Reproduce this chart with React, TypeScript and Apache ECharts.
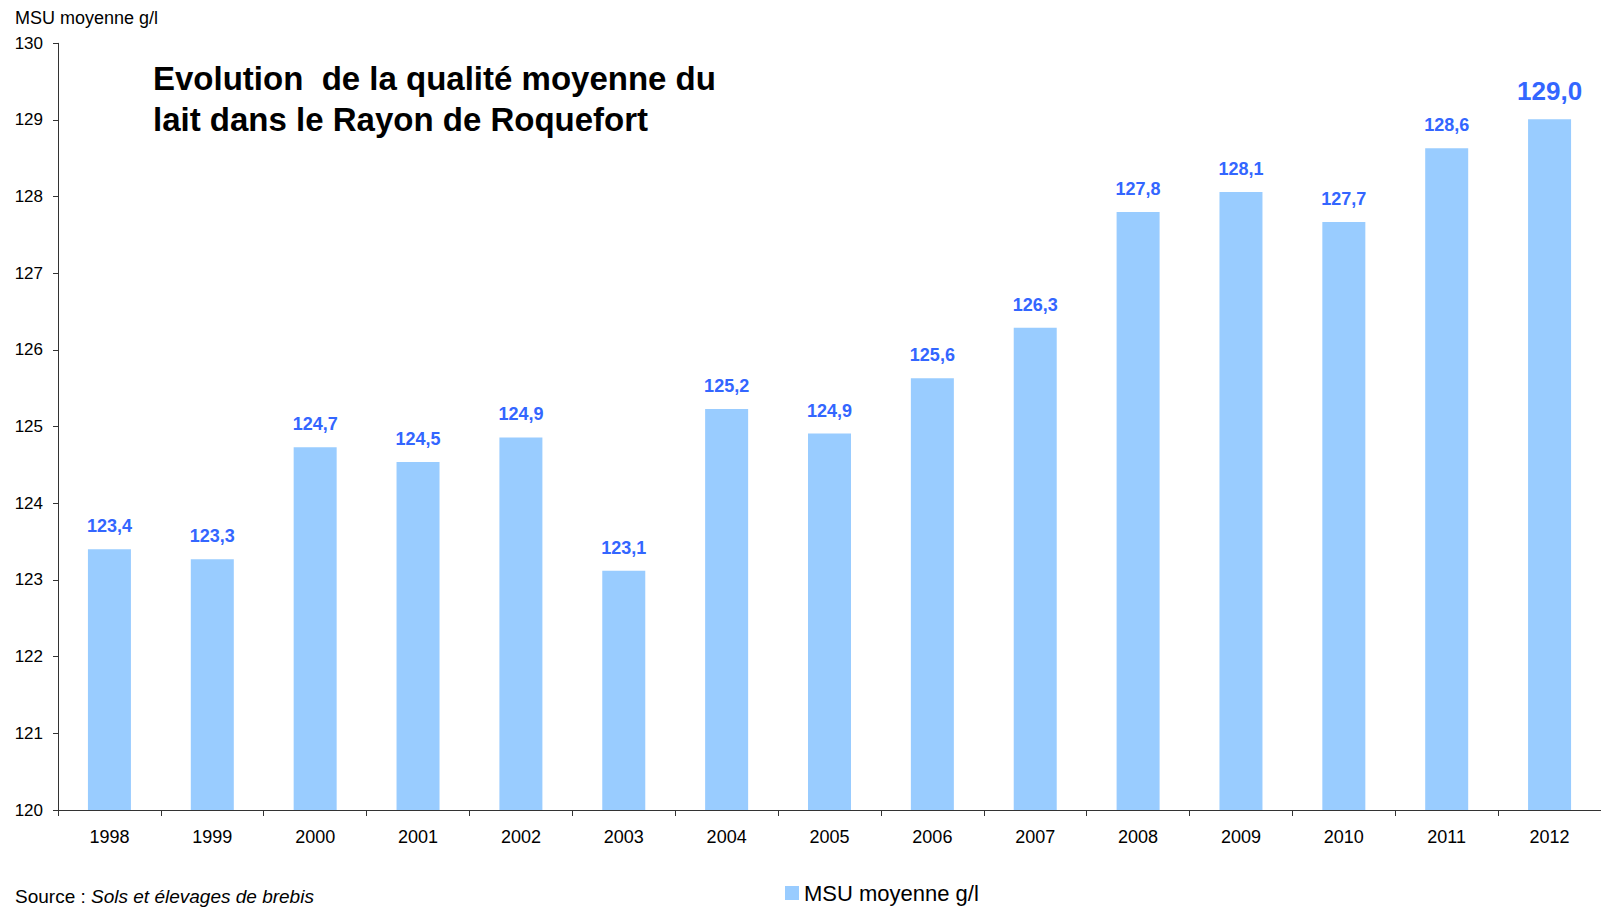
import React, { useEffect, useRef } from "react";
import * as echarts from "echarts";

const years = ["1998", "1999", "2000", "2001", "2002", "2003", "2004", "2005", "2006", "2007", "2008", "2009", "2010", "2011", "2012"];
const msuValues = [123.4, 123.27, 124.73, 124.54, 124.86, 123.12, 125.23, 124.91, 125.63, 126.29, 127.8, 128.06, 127.67, 128.63, 129.01];
const seriesName = "MSU moyenne g/l";
const yMin = 120;
const yMax = 130;
const yInterval = 1;

const FONT = "'Liberation Sans', Arial, sans-serif";
const BAR = "#99CCFF";
const LABEL = "#3366FF";

export default function App() {
  const ref = useRef<HTMLDivElement>(null);

  useEffect(() => {
    if (!ref.current) return;
    const chart = echarts.init(ref.current, null, { renderer: "svg" });
    const fmt = (v: number) => v.toFixed(1).replace(".", ",");
    const last = msuValues.length - 1;
    const data = msuValues.map((v, i) =>
      i === last
        ? { value: v, label: { fontSize: 26, distance: 15 } }
        : { value: v }
    );
    chart.setOption({
      animation: false,
      backgroundColor: "#ffffff",
      textStyle: { fontFamily: FONT },
      title: {
        text: "Evolution  de la qualité moyenne du\nlait dans le Rayon de Roquefort",
        left: 153,
        top: 58,
        padding: 0,
        textStyle: { fontFamily: FONT, fontSize: 33, fontWeight: "bold", color: "#000", lineHeight: 41 },
      },
      legend: {
        left: 785,
        top: 882,
        padding: 0,
        itemWidth: 14,
        itemHeight: 14,
        itemGap: 6,
        icon: "rect",
        textStyle: { fontFamily: FONT, fontSize: 22, color: "#000" },
        data: [seriesName],
      },
      grid: { left: 58, right: 0, top: 43.3, bottom: 97, containLabel: false },
      xAxis: {
        type: "category",
        data: years,
        boundaryGap: true,
        axisLine: { show: true, lineStyle: { color: "#333", width: 1 } },
        axisTick: { show: true, alignWithLabel: false, length: 6, lineStyle: { color: "#333" } },
        axisLabel: { fontFamily: FONT, fontSize: 18, color: "#000", margin: 18, interval: 0 },
      },
      yAxis: {
        type: "value",
        min: yMin,
        max: yMax,
        interval: yInterval,
        axisLine: { show: true, lineStyle: { color: "#333", width: 1 } },
        axisTick: { show: true, length: 5, lineStyle: { color: "#333" } },
        splitLine: { show: false },
        axisLabel: { fontFamily: FONT, fontSize: 17, color: "#000", margin: 15 },
      },
      graphic: [
        {
          type: "text",
          x: 15,
          y: 18,
          style: { text: "MSU moyenne g/l", fontFamily: FONT, fontSize: 18, fill: "#000", verticalAlign: "middle" },
        },
        {
          type: "text",
          x: 15,
          y: 896,
          style: {
            text: "{a|Source : }{b|Sols et élevages de brebis}",
            verticalAlign: "middle",
            rich: {
              a: { fontFamily: FONT, fontSize: 19, fill: "#000" },
              b: { fontFamily: FONT, fontSize: 19, fontStyle: "italic", fill: "#000" },
            },
          },
        },
      ],
      series: [
        {
          name: seriesName,
          type: "bar",
          data,
          barWidth: 43,
          itemStyle: { color: BAR },
          label: {
            show: true,
            position: "top",
            distance: 14,
            fontFamily: FONT,
            fontSize: 18,
            fontWeight: "bold",
            color: LABEL,
            formatter: (p: any) => fmt(p.value),
          },
        },
      ],
    });
    return () => chart.dispose();
  }, []);

  return (
    <div
      ref={ref}
      style={{ position: "fixed", left: 0, top: 0, width: 1601, height: 907, background: "#fff" }}
    />
  );
}
